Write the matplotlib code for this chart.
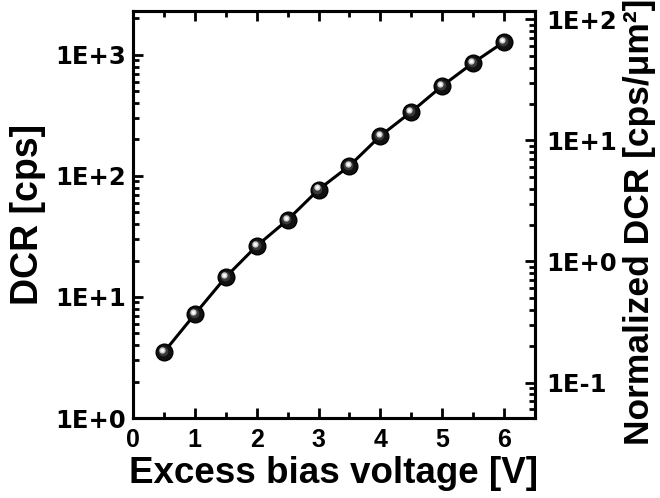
import matplotlib
matplotlib.use("Agg")
import matplotlib.pyplot as plt
import matplotlib.ticker as mticker
import matplotlib.transforms as mtrans
import numpy as np

plt.rcParams['font.family'] = ['Liberation Sans', 'DejaVu Sans']
plt.rcParams['font.weight'] = 'bold'

voltage = [0.5, 1.0, 1.5, 2.0, 2.5, 3.0, 3.5, 4.0, 4.5, 5.0, 5.5, 6.0]
dcr = [3.5, 7.2, 14.6, 26.4, 43.3, 77, 121, 214, 338, 554, 859, 1280]
area_um2 = 19.63
left_ticks = [1, 10, 100, 1000]
left_labels = ["1E+0", "1E+1", "1E+2", "1E+3"]
right_ticks = [0.1, 1, 10, 100]
right_labels = ["1E-1", "1E+0", "1E+1", "1E+2"]

fig = plt.figure(figsize=(6.6, 4.98), dpi=100)
ax = fig.add_axes([0.2015, 0.1606, 0.8106 - 0.2015, 0.9779 - 0.1606])

ax.plot(voltage, dcr, color='black', lw=2.2, zorder=2)
ax.plot(voltage, dcr, 'o', ms=12, color='#111111', mec='black', zorder=3)
off1 = mtrans.offset_copy(ax.transData, fig=fig, x=-0.8, y=0.8, units='points')
ax.plot(voltage, dcr, 'o', ms=7, color='#3a3a3a', mec='none', zorder=4, transform=off1)
off2 = mtrans.offset_copy(ax.transData, fig=fig, x=-1.3, y=1.6, units='points')
ax.plot(voltage, dcr, 'o', ms=4.5, color='#d0d0d0', mec='none', zorder=5, transform=off2)
ax.plot(voltage, dcr, 'o', ms=2.2, color='white', mec='none', zorder=6, transform=off2)

ax.set_yscale('log')
ylo, yhi = 1, 2300
ax.set_ylim(ylo, yhi)
ax.set_xlim(0, 6.5)
ax.xaxis.set_major_locator(mticker.MultipleLocator(1))
ax.xaxis.set_minor_locator(mticker.MultipleLocator(0.5))
ax.yaxis.set_major_locator(mticker.FixedLocator(left_ticks))
ax.yaxis.set_major_formatter(mticker.FixedFormatter(left_labels))
ax.yaxis.set_minor_locator(mticker.LogLocator(base=10, subs=np.arange(2, 10)))
ax.yaxis.set_minor_formatter(mticker.NullFormatter())

ax.tick_params(which='both', direction='in', top=True, right=False, width=2)
ax.tick_params(which='major', length=7.5)
ax.tick_params(which='minor', length=4)
ax.tick_params(axis='x', which='major', labelsize=18, pad=7)
ax.tick_params(axis='y', which='major', labelsize=17.5, pad=5,
               labelfontfamily='DejaVu Sans')
for s in ax.spines.values():
    s.set_linewidth(2.2)

ax.set_xlabel("Excess bias voltage [V]", fontsize=26.5, fontweight='bold', labelpad=3)
ax.set_ylabel("DCR [cps]", fontsize=27, fontweight='bold', labelpad=7)

ax2 = ax.twinx()
ax2.set_yscale('log')
ax2.set_ylim(ylo / area_um2, yhi / area_um2)
ax2.yaxis.set_major_locator(mticker.FixedLocator(right_ticks))
ax2.yaxis.set_major_formatter(mticker.FixedFormatter(right_labels))
ax2.yaxis.set_minor_locator(mticker.LogLocator(base=10, subs=np.arange(2, 10)))
ax2.yaxis.set_minor_formatter(mticker.NullFormatter())
ax2.tick_params(which='both', direction='in', width=2)
ax2.tick_params(which='major', length=7.5, labelsize=17.5, pad=8,
                labelfontfamily='DejaVu Sans')
ax2.tick_params(which='minor', length=4)
for s in ax2.spines.values():
    s.set_linewidth(2.2)
ax2.set_ylabel("Normalized DCR [cps/μm²]", fontsize=25.5, fontweight='bold')
ax2.yaxis.set_label_coords(1.218, 0.482)

fig.savefig("out.png", dpi=100)
